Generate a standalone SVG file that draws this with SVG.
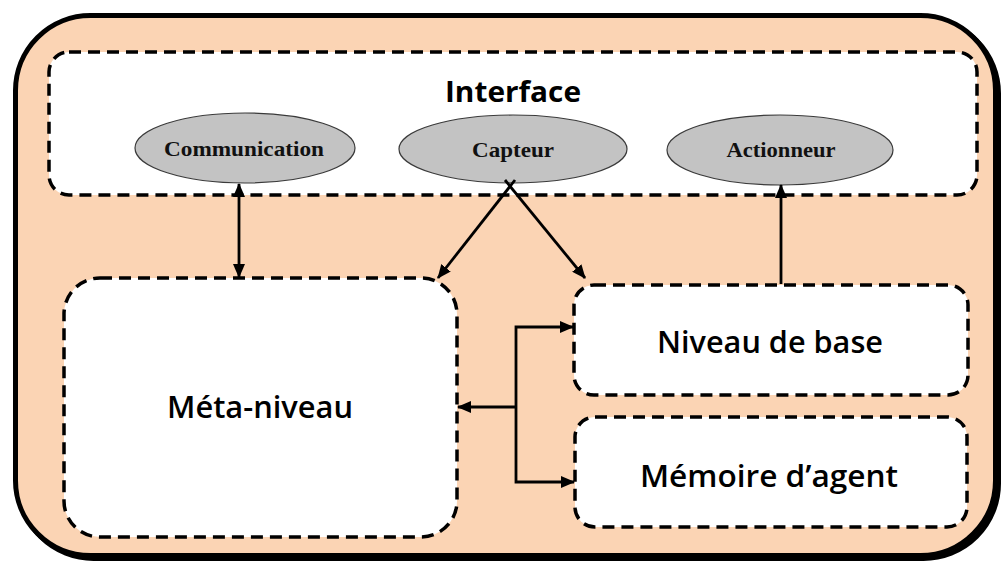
<svg xmlns="http://www.w3.org/2000/svg" width="1003" height="565" viewBox="0 0 1003 565">
  <defs>
    <style>
      .box { fill: #ffffff; stroke: #000; stroke-width: 3.5; stroke-dasharray: 12 7; }
      .port { fill: #c3c3c3; stroke: #3a3a3a; stroke-width: 1.2; }
      .port-label { font-family: "Liberation Serif", "Times New Roman", serif; font-weight: bold; font-size: 21px; fill: #111; text-anchor: middle; }
      .label { font-family: "Open Sans", "Liberation Sans", sans-serif; font-weight: 600; font-size: 31px; fill: #000; text-anchor: middle; }
      .title { font-family: "Open Sans", "Liberation Sans", sans-serif; font-weight: bold; font-size: 29px; fill: #000; text-anchor: middle; }
      .link { fill: none; stroke: #000; stroke-width: 2.8; }
    </style>
    <marker id="arrow" viewBox="0 0 14 12" refX="13" refY="6" markerWidth="14" markerHeight="12" markerUnits="userSpaceOnUse" orient="auto-start-reverse">
      <path d="M0,0 L14,6 L0,12 z" fill="#000"/>
    </marker>
  </defs>

  <!-- agent frame with a slight drop shadow -->
  <g id="agent">
    <rect x="18.5" y="18.5" width="980" height="540" rx="75" ry="75" fill="none" stroke="#000" stroke-width="5"/>
    <rect x="15.5" y="15.5" width="980" height="540" rx="75" ry="75" fill="#fbd4b4" stroke="#000" stroke-width="5"/>
  </g>

  <!-- interface band -->
  <g id="interface">
    <rect class="box" x="49" y="52" width="928" height="143" rx="20" ry="20"/>
    <text class="title" x="513" y="102" textLength="136" lengthAdjust="spacingAndGlyphs">Interface</text>
  </g>

  <g id="communication">
    <ellipse class="port" cx="245" cy="148" rx="110" ry="35"/>
    <text class="port-label" x="244" y="156" textLength="160" lengthAdjust="spacingAndGlyphs">Communication</text>
  </g>

  <g id="capteur">
    <ellipse class="port" cx="513" cy="149" rx="114" ry="34"/>
    <text class="port-label" x="513" y="157" textLength="82" lengthAdjust="spacingAndGlyphs">Capteur</text>
  </g>

  <g id="actionneur">
    <ellipse class="port" cx="780" cy="150" rx="113" ry="35"/>
    <text class="port-label" x="781" y="157" textLength="109" lengthAdjust="spacingAndGlyphs">Actionneur</text>
  </g>

  <g id="meta-niveau">
    <rect class="box" x="64" y="278" width="393" height="259" rx="36" ry="36"/>
    <text class="label" x="260" y="418" textLength="186" lengthAdjust="spacingAndGlyphs">Méta-niveau</text>
  </g>

  <g id="niveau-de-base">
    <rect class="box" x="574" y="285" width="394" height="110" rx="20" ry="20"/>
    <text class="label" x="770" y="353" textLength="226" lengthAdjust="spacingAndGlyphs">Niveau de base</text>
  </g>

  <g id="memoire-agent">
    <rect class="box" x="575" y="417" width="392" height="110" rx="20" ry="20"/>
    <text class="label" x="769" y="487" textLength="258" lengthAdjust="spacingAndGlyphs">Mémoire d’agent</text>
  </g>

  <g id="connectors">
    <!-- communication <-> meta-niveau -->
    <line class="link" x1="239" y1="184" x2="239" y2="277" marker-start="url(#arrow)" marker-end="url(#arrow)"/>
    <!-- capteur fans out to both levels -->
    <line class="link" x1="515" y1="180" x2="438" y2="278" marker-end="url(#arrow)"/>
    <line class="link" x1="505" y1="180" x2="585" y2="278" marker-end="url(#arrow)"/>
    <!-- niveau de base -> actionneur -->
    <line class="link" x1="781" y1="284" x2="781" y2="185" marker-end="url(#arrow)"/>
    <!-- meta-niveau bus to base level and memory -->
    <polyline class="link" points="573,327 516,327 516,482 574,482" marker-start="url(#arrow)" marker-end="url(#arrow)"/>
    <line class="link" x1="516" y1="407" x2="458" y2="407" marker-end="url(#arrow)"/>
  </g>
</svg>
